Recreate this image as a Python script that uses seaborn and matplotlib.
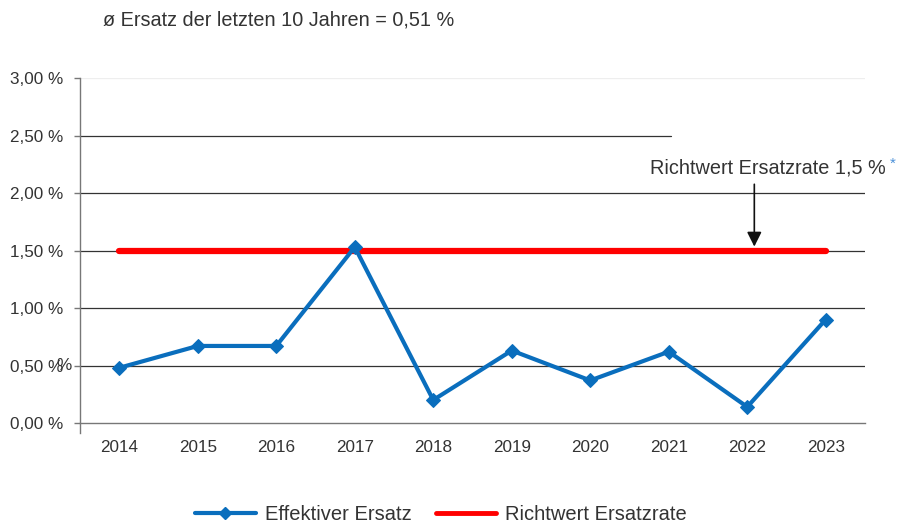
import matplotlib
matplotlib.use("Agg")
import matplotlib.pyplot as plt
import seaborn as sns
import pandas as pd
from matplotlib.lines import Line2D

years = ["2014", "2015", "2016", "2017", "2018", "2019", "2020", "2021", "2022", "2023"]
effektiv = [0.48, 0.67, 0.67, 1.53, 0.20, 0.63, 0.37, 0.62, 0.14, 0.90]
richtwert = [1.5] * 10
y_ticks = [0.0, 0.5, 1.0, 1.5, 2.0, 2.5, 3.0]
y_labels = ["0,00 %", "0,50 %", "1,00 %", "1,50 %", "2,00 %", "2,50 %", "3,00 %"]
title = "ø Ersatz der letzten 10 Jahren = 0,51 %"
note = "Richtwert Ersatzrate 1,5 %"

sns.set_theme(style="white")
plt.rcParams['font.family'] = ['Liberation Sans', 'DejaVu Sans']

df = pd.DataFrame({"Jahr": years, "Effektiver Ersatz": effektiv, "Richtwert Ersatzrate": richtwert})
df["x"] = range(len(years))

fig = plt.figure(figsize=(8.99, 5.24), dpi=100)
ax = fig.add_axes([80/899, 1-423/524, 785/899, 345/524])

# gridlines
for v in [0.5, 1.0, 1.5, 2.0]:
    ax.axhline(v, color="#333333", lw=0.9, zorder=0)
ax.axhline(2.5, xmin=0, xmax=(671-80)/785, color="#333333", lw=0.9, zorder=0)
ax.axhline(3.0, color="#eeeeee", lw=0.9, zorder=0)

blue = "#0A6EBD"
red = "#FF0000"
sns.lineplot(data=df, x="x", y="Richtwert Ersatzrate", ax=ax, color=red, lw=4.5,
             solid_capstyle="round", zorder=3)
sns.lineplot(data=df, x="x", y="Effektiver Ersatz", ax=ax, color=blue, lw=3,
             marker="D", markersize=7.5, markeredgecolor=blue, zorder=4)

ax.set_xlim(-0.5, len(years) - 0.5)
ax.set_ylim(0, 3.0)
ax.set_yticks(y_ticks)
ax.set_yticklabels(y_labels)
ax.set_xticks(range(len(years)))
ax.set_xticklabels(years)
ax.set_xticks([i - 0.5 for i in range(len(years) + 1)], minor=True)
ax.tick_params(axis="x", which="major", length=0, pad=12, labelsize=12.3, colors="#333333")
ax.tick_params(axis="x", which="minor", length=5, width=1, color="#777777", direction="out")
ax.tick_params(axis="y", which="major", length=4, width=1, color="#777777", direction="out",
               labelsize=12.3, labelcolor="#333333", left=True, pad=8)
ax.set_xlabel("")
ax.set_ylabel("")
for s in ["top", "right"]:
    ax.spines[s].set_visible(False)
for s in ["left", "bottom"]:
    ax.spines[s].set_color("#777777")
    ax.spines[s].set_linewidth(1)
ax.spines["left"].set_bounds(-0.09, 3.0)
ax.get_legend() and ax.get_legend().remove()

# stray percent glyph near 0,50 %
fig.text(64/899, 1-366/524, "%", ha="center", va="center",
         fontsize=12.3, color="#333333")

fig.text(103/899, 1-20/524, title, ha="left", va="center", fontsize=14.3, color="#333333")
ax.annotate("", xy=(8.09, 1.51), xytext=(8.09, 2.10),
            arrowprops=dict(arrowstyle="-|>", color="#111111", lw=1.2, mutation_scale=22))
fig.text(886/899, 1-168/524, note, ha="right", va="center", fontsize=14.3, color="#333333")
fig.text(893/899, 1-164/524, "*", ha="center", va="center", fontsize=11, color="#4a90d9")

handles = [Line2D([0], [0], color=blue, lw=3, marker="D", markersize=6),
           Line2D([0], [0], color=red, lw=3.5)]
fig.legend(handles, ["Effektiver Ersatz", "Richtwert Ersatzrate"], loc="center",
           bbox_to_anchor=(441/899, 1-515/524), ncol=2, frameon=False, fontsize=14.5,
           handlelength=3.0, columnspacing=1.2, handletextpad=0.45, labelcolor="#333333")

fig.savefig("out.png", dpi=100)
